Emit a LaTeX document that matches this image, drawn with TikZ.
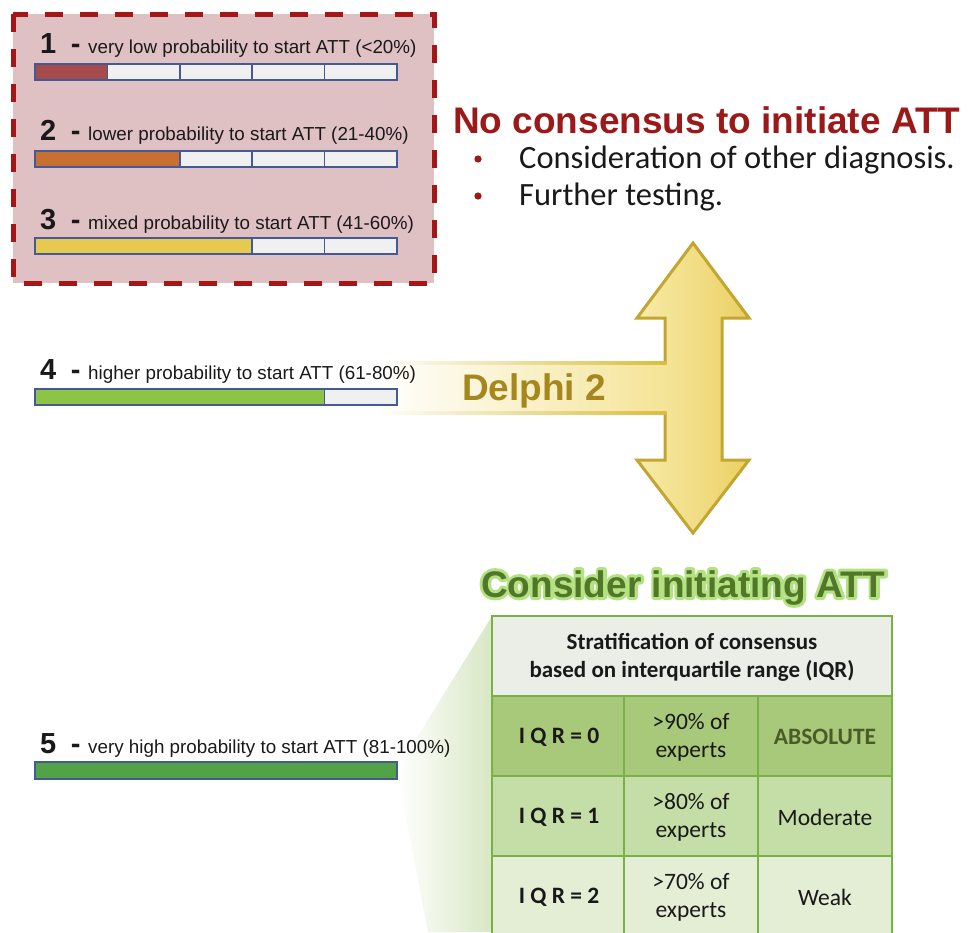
\documentclass[tikz,border=0pt]{standalone}
\usepackage{fontspec}
\setmainfont{Liberation Sans}
\newfontfamily\calfont{Carlito}
\definecolor{boxfill}{RGB}{224,193,195}
\definecolor{boxline}{RGB}{165,22,22}
\definecolor{barline}{RGB}{68,90,150}
\definecolor{cellempty}{RGB}{240,240,240}
\definecolor{c1}{RGB}{165,75,75}
\definecolor{c2}{RGB}{200,112,50}
\definecolor{c3}{RGB}{230,202,80}
\definecolor{c4}{RGB}{141,196,70}
\definecolor{c5}{RGB}{82,162,70}
\definecolor{titlered}{RGB}{155,25,25}
\definecolor{arrowL}{RGB}{247,235,168}
\definecolor{arrowR}{RGB}{235,208,100}
\definecolor{arrowline}{RGB}{195,165,50}
\definecolor{bandline}{RGB}{218,188,62}
\definecolor{delphi}{RGB}{165,135,30}
\definecolor{greentitle}{RGB}{80,120,40}
\definecolor{greenglow}{RGB}{180,225,130}
\definecolor{tabline}{RGB}{122,176,72}
\definecolor{hdr}{RGB}{234,238,230}
\definecolor{rowa}{RGB}{168,201,122}
\definecolor{rowb}{RGB}{197,221,166}
\definecolor{rowc}{RGB}{227,238,213}
\definecolor{absol}{RGB}{72,92,40}
\definecolor{shadegreen}{RGB}{216,231,196}
\definecolor{txt}{RGB}{25,25,25}
\newcommand{\glowon}{\special{pdf:code 1 Tr 0.706 0.882 0.510 RG 6 w 1 j}}
\newcommand{\glowoff}{\special{pdf:code 0 Tr}}
\begin{document}
\begin{tikzpicture}[x=1pt,y=-1pt,
  numtext/.style={anchor=base west, inner sep=0pt, text=txt, font=\fontsize{29}{30}\selectfont\bfseries},
  lbltext/.style={anchor=base west, inner sep=0pt, text=txt, font=\fontsize{18.8}{20}\selectfont},
  cellbox/.style={draw=barline, line width=1.5pt, fill=cellempty},
  baroutline/.style={draw=barline, line width=1.5pt},
  gtitle/.style={anchor=base west, inner sep=0pt, font=\fontsize{37}{40}\selectfont\bfseries},
  tabtext/.style={inner sep=0pt, align=center, text=txt, font=\calfont\fontsize{23.5}{28}\selectfont},
  tabbold/.style={tabtext, font=\calfont\fontsize{23.5}{28}\selectfont\bfseries},
  tabrule/.style={draw=tabline, line width=2.5pt}
]
\useasboundingbox (0,0) rectangle (969,932);
\clip (0,0) rectangle (969,932);

% dashed box
\draw[boxline, line width=5pt, dash pattern=on 18pt off 17pt, fill=boxfill] (13,14) rectangle (434,283);

% band + double arrow
\shadedraw[left color=arrowL, right color=arrowR, draw=arrowline, line width=3pt, line join=miter]
  (665,318) -- (637,318) -- (693,243) -- (749,318) -- (722,318) -- (722,460)
  -- (749,460) -- (693,533) -- (637,460) -- (665,460) -- cycle;
\shade[left color=white, right color=arrowL!75!arrowR] (377,364.5) rectangle (666.5,411.5);
\shade[left color=white, right color=bandline] (377,361.5) rectangle (666.5,364.5);
\shade[left color=white, right color=bandline] (377,411.5) rectangle (666.5,414.5);
\node[anchor=base west, inner sep=0pt, text=delphi, font=\fontsize{37}{40}\selectfont\bfseries] (delphi) at (462,400) {Delphi 2};

% green callout shading
\shade[left color=white, right color=shadegreen] (397,770) -- (492,616) -- (492,932) -- (428,932) -- cycle;

% bars 1-4
\foreach \k/\yt/\col in {1/64/c1, 2/151/c2, 3/238/c3, 4/389/c4} {
  \fill[\col] (35,\yt) rectangle ({35+72.4*\k},{\yt+16});
  \foreach \j in {\k,...,4} {
    \path[cellbox] ({35+72.4*\j},\yt) rectangle ({35+72.4*(\j+1)},{\yt+16});
  }
  \path[baroutline] (35,\yt) rectangle (397,{\yt+16});
}
% bar 5
\path[cellbox, fill=c5] (35,762) rectangle (397,779);

% labels
\foreach \i/\yb/\t in {1/53/{very low probability to start ATT (<20\%)},
                       2/140/{lower probability to start ATT (21-40\%)},
                       3/229/{mixed probability to start ATT (41-60\%)},
                       4/379/{higher probability to start ATT (61-80\%)},
                       5/753/{very high probability to start ATT (81-100\%)}} {
  \node[numtext] (n\i) at (40,\yb) {\i\hspace{14.5pt}-};
  \node[lbltext] (t\i) at (88,\yb) {\t};
}

% no consensus
\node[anchor=base west, inner sep=0pt, text=titlered, font=\fontsize{37}{40}\selectfont\bfseries] (title) at (453,133) {No consensus to initiate ATT};
\fill[titlered] (478,159) circle (3.6pt);
\fill[titlered] (478,196) circle (3.6pt);
\node[anchor=base west, inner sep=0pt, text=txt, font=\calfont\fontsize{32.5}{36}\selectfont] (b1) at (519,168) {Consideration of other diagnosis.};
\node[anchor=base west, inner sep=0pt, text=txt, font=\calfont\fontsize{32.5}{36}\selectfont] (b2) at (519,205) {Further testing.};

% consider title with glow (stroked outline behind)
\node[gtitle, text=greenglow] (glow) at (481,597) {\glowon Consider initiating ATT\glowoff};
\node[gtitle, text=greentitle] (ctitle) at (481,597) {Consider initiating ATT};

% table
\fill[hdr] (492,616) rectangle (892,696);
\fill[rowa] (492,696) rectangle (892,776);
\fill[rowb] (492,776) rectangle (892,856);
\fill[rowc] (492,856) rectangle (892,940);
\path[tabrule] (492,940) -- (492,616) -- (892,616) -- (892,940);
\path[tabrule] (492,696) -- (892,696);
\path[tabrule] (492,776) -- (892,776);
\path[tabrule] (492,856) -- (892,856);
\path[tabrule] (624,696) -- (624,940);
\path[tabrule] (758,696) -- (758,940);

\node[tabbold, font=\calfont\fontsize{23}{28}\selectfont\bfseries] (hdrtext) at (692,657) {Stratification of consensus\\based on interquartile range (IQR)};
\node[tabbold] (a1) at (559,737) {I Q R = 0};
\node[tabtext] (a2) at (691,737) {>90\% of\\experts};
\node[tabbold, text=absol] (a3) at (825,737) {ABSOLUTE};
\node[tabbold] (b1c) at (559,817) {I Q R = 1};
\node[tabtext] (b2c) at (691,817) {>80\% of\\experts};
\node[tabtext] (b3c) at (825,817) {Moderate};
\node[tabbold] (c1c) at (559,897) {I Q R = 2};
\node[tabtext] (c2c) at (691,897) {>70\% of\\experts};
\node[tabtext] (c3c) at (825,897) {Weak};
\end{tikzpicture}
\end{document}
